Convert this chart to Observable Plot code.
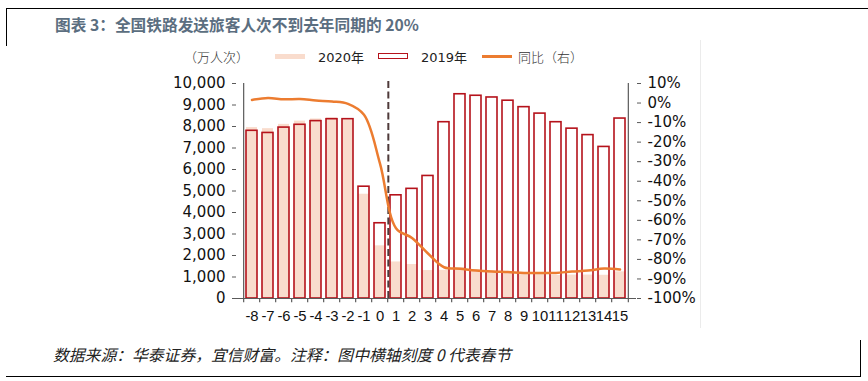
<!DOCTYPE html>
<html>
<head>
<meta charset="utf-8">
<script src="https://cdn.jsdelivr.net/npm/d3@7"></script>
<script src="https://cdn.jsdelivr.net/npm/@observablehq/plot@0.6"></script>
<style>
  body { margin: 0; background: #fff; }
  #root { position: relative; width: 868px; height: 381px; background: #fff; overflow: hidden; font-family: "Noto Sans CJK SC", "Noto Sans", sans-serif; }
  .ln { position: absolute; background: #000; }
  .txt { position: absolute; white-space: nowrap; }
  #chart { position: absolute; left: 0; top: 66px; }
</style>
</head>
<body>
<div id="root">
  <div class="ln" style="left:6px;top:8px;width:862px;height:1px;"></div>
  <div class="ln" style="left:6px;top:8px;width:1px;height:38px;"></div>
  <div class="ln" style="left:6px;top:376px;width:855px;height:1px;"></div>
  <div class="ln" style="left:860px;top:340px;width:1px;height:37px;"></div>
  <div class="ln" style="left:700px;top:40px;width:1px;height:288px;background:#ebebeb;"></div>

  <div class="txt" style="left:55px;top:14px;line-height:22px;font-size:15.7px;font-weight:bold;color:#5b6e80;">图表 3：全国铁路发送旅客人次不到去年同期的 20%</div>

  <div class="txt" style="left:184px;top:47px;line-height:20px;font-size:13px;color:#333;font-weight:300;">（万人次）</div>
  <div style="position:absolute;left:275px;top:54px;width:30px;height:5px;background:#f9dccd;"></div>
  <div class="txt" style="left:318px;top:47px;line-height:20px;font-size:13px;color:#222;font-family:'DejaVu Sans','Noto Sans CJK SC';">2020<span style="font-family:'Noto Sans CJK SC'">年</span></div>
  <div style="position:absolute;left:378px;top:53px;width:28px;height:4px;border:1.5px solid #b5121b;background:#fff;"></div>
  <div class="txt" style="left:421px;top:47px;line-height:20px;font-size:13px;color:#222;font-family:'DejaVu Sans','Noto Sans CJK SC';">2019<span style="font-family:'Noto Sans CJK SC'">年</span></div>
  <div style="position:absolute;left:482px;top:55px;width:30px;height:2.5px;background:#ec7c30;"></div>
  <div class="txt" style="left:518px;top:47px;line-height:20px;font-size:13px;color:#333;font-weight:300;">同比（右）</div>

  <div id="chart"></div>

  <div class="txt" style="left:53px;top:344px;line-height:22px;font-size:15.8px;font-style:italic;color:#222;">数据来源：华泰证券，宜信财富。注释：图中横轴刻度 0 代表春节</div>
</div>
<script>
// ---- data ----
const categories = ["-8","-7","-6","-5","-4","-3","-2","-1","0","1","2","3","4","5","6","7","8","9","10","11","12","13","14","15"];
const values2019 = [7800,7700,7950,8080,8250,8340,8340,5200,3500,4800,5100,5700,8200,9500,9430,9350,9200,8900,8600,8200,7900,7600,7050,8370];
const values2020 = [7950,7900,8100,8250,8350,8400,8300,4850,2450,1700,1580,1300,1310,1440,1350,1290,1240,1170,1120,1070,1090,1090,1080,1240];
const yoyPct = [1.6,2.6,1.9,2.1,1.3,0.8,-0.4,-6,-31,-64,-69,-77,-84,-84.8,-85.7,-86.2,-86.5,-86.9,-87,-86.9,-86.2,-85.7,-84.7,-85.2];
const leftTicks = [0,1000,2000,3000,4000,5000,6000,7000,8000,9000,10000];
const rightTicks = [10,0,-10,-20,-30,-40,-50,-60,-70,-80,-90,-100];

// ---- layout ----
const W = 868, H = 264, mL = 236, mR = 232, mT = 17, mB = 32;
const step = (W - mL - mR) / categories.length;
const leftMax = 10000, pctMin = -100, pctMax = 10;
const toLeft = p => (p - pctMin) / (pctMax - pctMin) * leftMax;
const fromLeft = v => v / leftMax * (pctMax - pctMin) + pctMin;

const rows = categories.map((c, i) => ({cat: c, v2019: values2019[i], v2020: values2020[i], pct: yoyPct[i]}));
const axisColor = "#5a5a5a";

const chart = Plot.plot({
  width: W, height: H,
  marginLeft: mL, marginRight: mR, marginTop: mT, marginBottom: mB,
  style: {fontFamily: "DejaVu Sans", fontSize: "15px", color: "#111", background: "transparent"},
  x: {type: "band", domain: categories, paddingInner: 0.3, paddingOuter: 0.15, label: null},
  y: {domain: [0, leftMax], label: null},
  marks: [
    Plot.barY(rows, {x: "cat", y: "v2020", fill: "#f9dccd"}),
    Plot.barY(rows, {x: "cat", y: "v2019", fill: "none", stroke: "#b5121b", strokeWidth: 1.6}),
    Plot.ruleX(["0"], {dx: step / 2, y1: 0, y2: 10150, stroke: "#4e3a3a", strokeWidth: 2, strokeDasharray: "7,3.5"}),
    Plot.line(rows, {x: "cat", y: d => toLeft(d.pct), stroke: "#ec7c30", strokeWidth: 2.5, curve: "catmull-rom"}),
    // axis lines
    Plot.ruleY([0], {stroke: axisColor, strokeWidth: 1.2}),
    Plot.ruleX([categories[0]], {dx: -step / 2, y1: 0, y2: leftMax, stroke: axisColor, strokeWidth: 1.2}),
    Plot.ruleX([categories[categories.length - 1]], {dx: step / 2, y1: 0, y2: leftMax, stroke: axisColor, strokeWidth: 1.2}),
    // x boundary ticks
    Plot.ruleX(categories, {dx: -step / 2, y1: 0, y2: -200, stroke: axisColor, strokeWidth: 1.2}),
    Plot.ruleX([categories[categories.length - 1]], {dx: step / 2, y1: 0, y2: -200, stroke: axisColor, strokeWidth: 1.2}),
    Plot.axisX({tickSize: 0, tickPadding: 12, tickFormat: d => d, fill: "#111", fontFamily: "Liberation Sans", fontSize: 14.8}),
    Plot.axisY(leftTicks, {anchor: "left", tickSize: 4, tickPadding: 7, stroke: axisColor, tickFormat: d3.format(","), fill: "#111", label: null, letterSpacing: 1}),
    Plot.axisY(rightTicks.map(toLeft), {anchor: "right", tickSize: 4, tickPadding: 7, stroke: axisColor, tickFormat: d => `${Math.round(fromLeft(d))}%`, fill: "#111", label: null})
  ]
});
document.getElementById("chart").appendChild(chart);
</script>
</body>
</html>
